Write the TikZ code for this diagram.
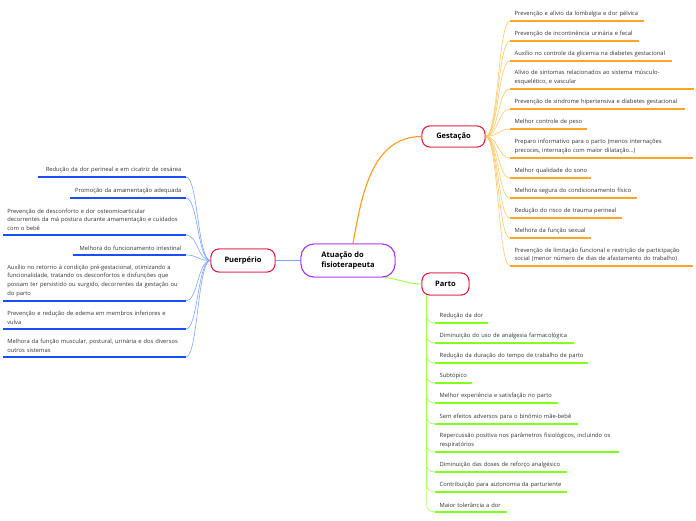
\documentclass[tikz,border=0pt]{standalone}
\usepackage{fontspec}
\setmainfont{Open Sans}
\definecolor{gor}{HTML}{FFA526}
\definecolor{gorl}{HTML}{FFC866}
\definecolor{gorm}{HTML}{FF9A1A}
\definecolor{grn}{HTML}{84FF1A}
\definecolor{grnl}{HTML}{A6FF4D}
\definecolor{blu}{HTML}{1A4DFF}
\definecolor{blul}{HTML}{7FA3FF}
\definecolor{nred}{HTML}{E0143C}
\definecolor{npur}{HTML}{A526FF}
\definecolor{tgray}{HTML}{333333}
\tikzset{
  leafbase/.style={align=left, inner xsep=4.5pt, inner ysep=4pt, font=\fontsize{5.8}{8.8}\selectfont, text=tgray},
  leafR/.style={leafbase, anchor=south west},
  leafL/.style={leafbase, anchor=south east},
  topic/.style={draw=nred, line width=0.9pt, fill=white, rounded corners=8pt, font=\fontsize{7.5}{9.5}\selectfont\bfseries, text=black, inner sep=0pt},
  centralbox/.style={draw=npur, line width=0.9pt, fill=white, rounded corners=13pt, minimum width=94pt, minimum height=33pt, inner sep=0pt, align=left, font=\fontsize{7.5}{10}\selectfont\bfseries},
  ulo/.style={gor, line width=1.5pt},
  ulg/.style={grn, line width=1.5pt},
  ulb/.style={blu, line width=1.5pt},
  cno/.style={gorl, line width=0.6pt},
  cng/.style={grnl, line width=0.6pt},
  cnb/.style={blul, line width=0.6pt}
}
\begin{document}
\begin{tikzpicture}[x=1pt,y=-1pt]
\useasboundingbox (0,0) rectangle (696,520);
% main nodes
\node[centralbox] (central) at (348,260.5) {Atuação do\\fisioterapeuta};
\node[topic, minimum width=63pt, minimum height=21pt] (gest) at (453.5,136.5) {Gestação};
\node[topic, minimum width=47pt, minimum height=22pt] (parto) at (445.5,284) {Parto};
\node[topic, minimum width=64pt, minimum height=23pt] (puer) at (243,260.5) {Puerpério};

% Gestação leaves
\node[leafR, text width=125pt] (g1) at (510,21) {Prevenção e alívio da lombalgia e dor pélvica};
\node[leafR, text width=120pt] (g2) at (510,41) {Prevenção de incontinência urinária e fecal};
\node[leafR, text width=153pt] (g3) at (510,61) {Auxílio no controle da glicemia na diabetes gestacional};
\node[leafR, text width=175pt] (g4) at (510,89) {Alívio de sintomas relacionados ao sistema músculo-\\esquelético, e vascular};
\node[leafR, text width=166pt] (g5) at (510,109) {Prevenção de síndrome hipertensiva e diabetes gestacional};
\node[leafR, text width=68pt] (g6) at (510,129) {\mbox{Melhor controle de peso}};
\node[leafR, text width=174pt] (g7) at (510,158) {Preparo informativo para o parto (menos internações\\precoces, internação com maior dilatação...)};
\node[leafR, text width=72pt] (g8) at (510,178) {\mbox{Melhor qualidade do sono}};
\node[leafR, text width=118pt] (g9) at (510,198) {\mbox{Melhora segura do condicionamento físico}};
\node[leafR, text width=103pt] (g10) at (510,218) {\mbox{Redução do risco de trauma perineal}};
\node[leafR, text width=72pt] (g11) at (510,238) {\mbox{Melhora da função sexual}};
\node[leafR, text width=174pt] (g12) at (510,266) {Prevenção de limitação funcional e restrição de participação\\social (menor número de dias de afastamento do trabalho)};

% Parto leaves
\node[leafR, text width=44pt] (p1) at (435,323) {\mbox{Redução da dor}};
\node[leafR, text width=130pt] (p2) at (435,343) {\mbox{Diminuição do uso de analgesia farmacológica}};
\node[leafR, text width=144pt] (p3) at (435,363) {\mbox{Redução da duração do tempo de trabalho de parto}};
\node[leafR, text width=28pt] (p4) at (435,383) {\mbox{Subtópico}};
\node[leafR, text width=114pt] (p5) at (435,403) {\mbox{Melhor experiência e satisfação no parto}};
\node[leafR, text width=134pt] (p6) at (435,424) {\mbox{Sem efeitos adversos para o binômio mãe-bebê}};
\node[leafR, text width=175pt] (p7) at (435,452) {Repercussão positiva nos parâmetros fisiológicos, incluindo os\\respiratórios};
\node[leafR, text width=123pt] (p8) at (435,472) {\mbox{Diminuição das doses de reforço analgésico}};
\node[leafR, text width=123pt] (p9) at (435,492) {\mbox{Contribuição para autonomia da parturiente}};
\node[leafR, text width=63pt] (p10) at (435,512) {\mbox{Maior tolerância a dor}};

% Puerpério leaves
\node[leafL, text width=139pt, align=right] (u1) at (186,177) {Redução da dor perineal e em cicatriz de cesárea};
\node[leafL, text width=107pt, align=right] (u2) at (186,198) {Promoção da amamentação adequada};
\node[leafL, text width=174pt] (u3) at (186,235) {Prevenção de desconforto e dor osteomioarticular\\decorrentes da má postura durante amamentação e cuidados\\com o bebê};
\node[leafL, text width=104pt, align=right] (u4) at (186,255) {Melhora do funcionamento intestinal};
\node[leafL, text width=174pt] (u5) at (186,301) {Auxílio no retorno à condição pré-gestacional, otimizando a\\funcionalidade, tratando os desconfortos e disfunções que\\possam ter persistido ou surgido, decorrentes da gestação ou\\do parto};
\node[leafL, text width=174pt] (u6) at (186,329) {Prevenção e redução de edema em membros inferiores e\\vulva};
\node[leafL, text width=174pt] (u7) at (186,357) {Melhora da função muscular, postural, urinária e dos diversos\\outros sistemas};

% main connectors
\draw[gorm, line width=1.1pt] ([xshift=5pt]central.north) to[out=80,in=180] (gest.west);
\draw[grnl, line width=1pt] (central.-25) to[out=-5,in=180] (parto.west);
\draw[blul, line width=1pt] (central.west) -- (puer.east);

% Gestação connectors and underlines
\foreach \n in {g1,g2,g3,g4,g5,g6,g7,g8,g9,g10,g11,g12}{
  \draw[cno] (gest.east) .. controls +(13,0) and +(-12,0) .. (\n.south west);
  \draw[ulo] (\n.south west) -- (\n.south east);
}
% Parto connectors and underlines
\coordinate (pst) at ([xshift=5pt]parto.south west);
\foreach \n in {p1,p2,p3,p4,p5,p6,p7,p8,p9,p10}{
  \draw[cng] (pst) -- ([yshift=7pt]pst |- \n.south west) to[out=-90,in=180] (\n.south west);
  \draw[ulg] (\n.south west) -- (\n.south east);
}
% Puerpério connectors and underlines
\foreach \n in {u1,u2,u3,u4,u5,u6,u7}{
  \draw[cnb] (puer.west) .. controls +(-13,0) and +(12,0) .. (\n.south east);
  \draw[ulb] (\n.south west) -- (\n.south east);
}
% redraw topic nodes on top of connector ends
\node[centralbox] at (central) {Atuação do\\fisioterapeuta};
\node[topic, minimum width=63pt, minimum height=21pt] at (gest) {Gestação};
\node[topic, minimum width=47pt, minimum height=22pt] at (parto) {Parto};
\node[topic, minimum width=64pt, minimum height=23pt] at (puer) {Puerpério};
\end{tikzpicture}
\end{document}
